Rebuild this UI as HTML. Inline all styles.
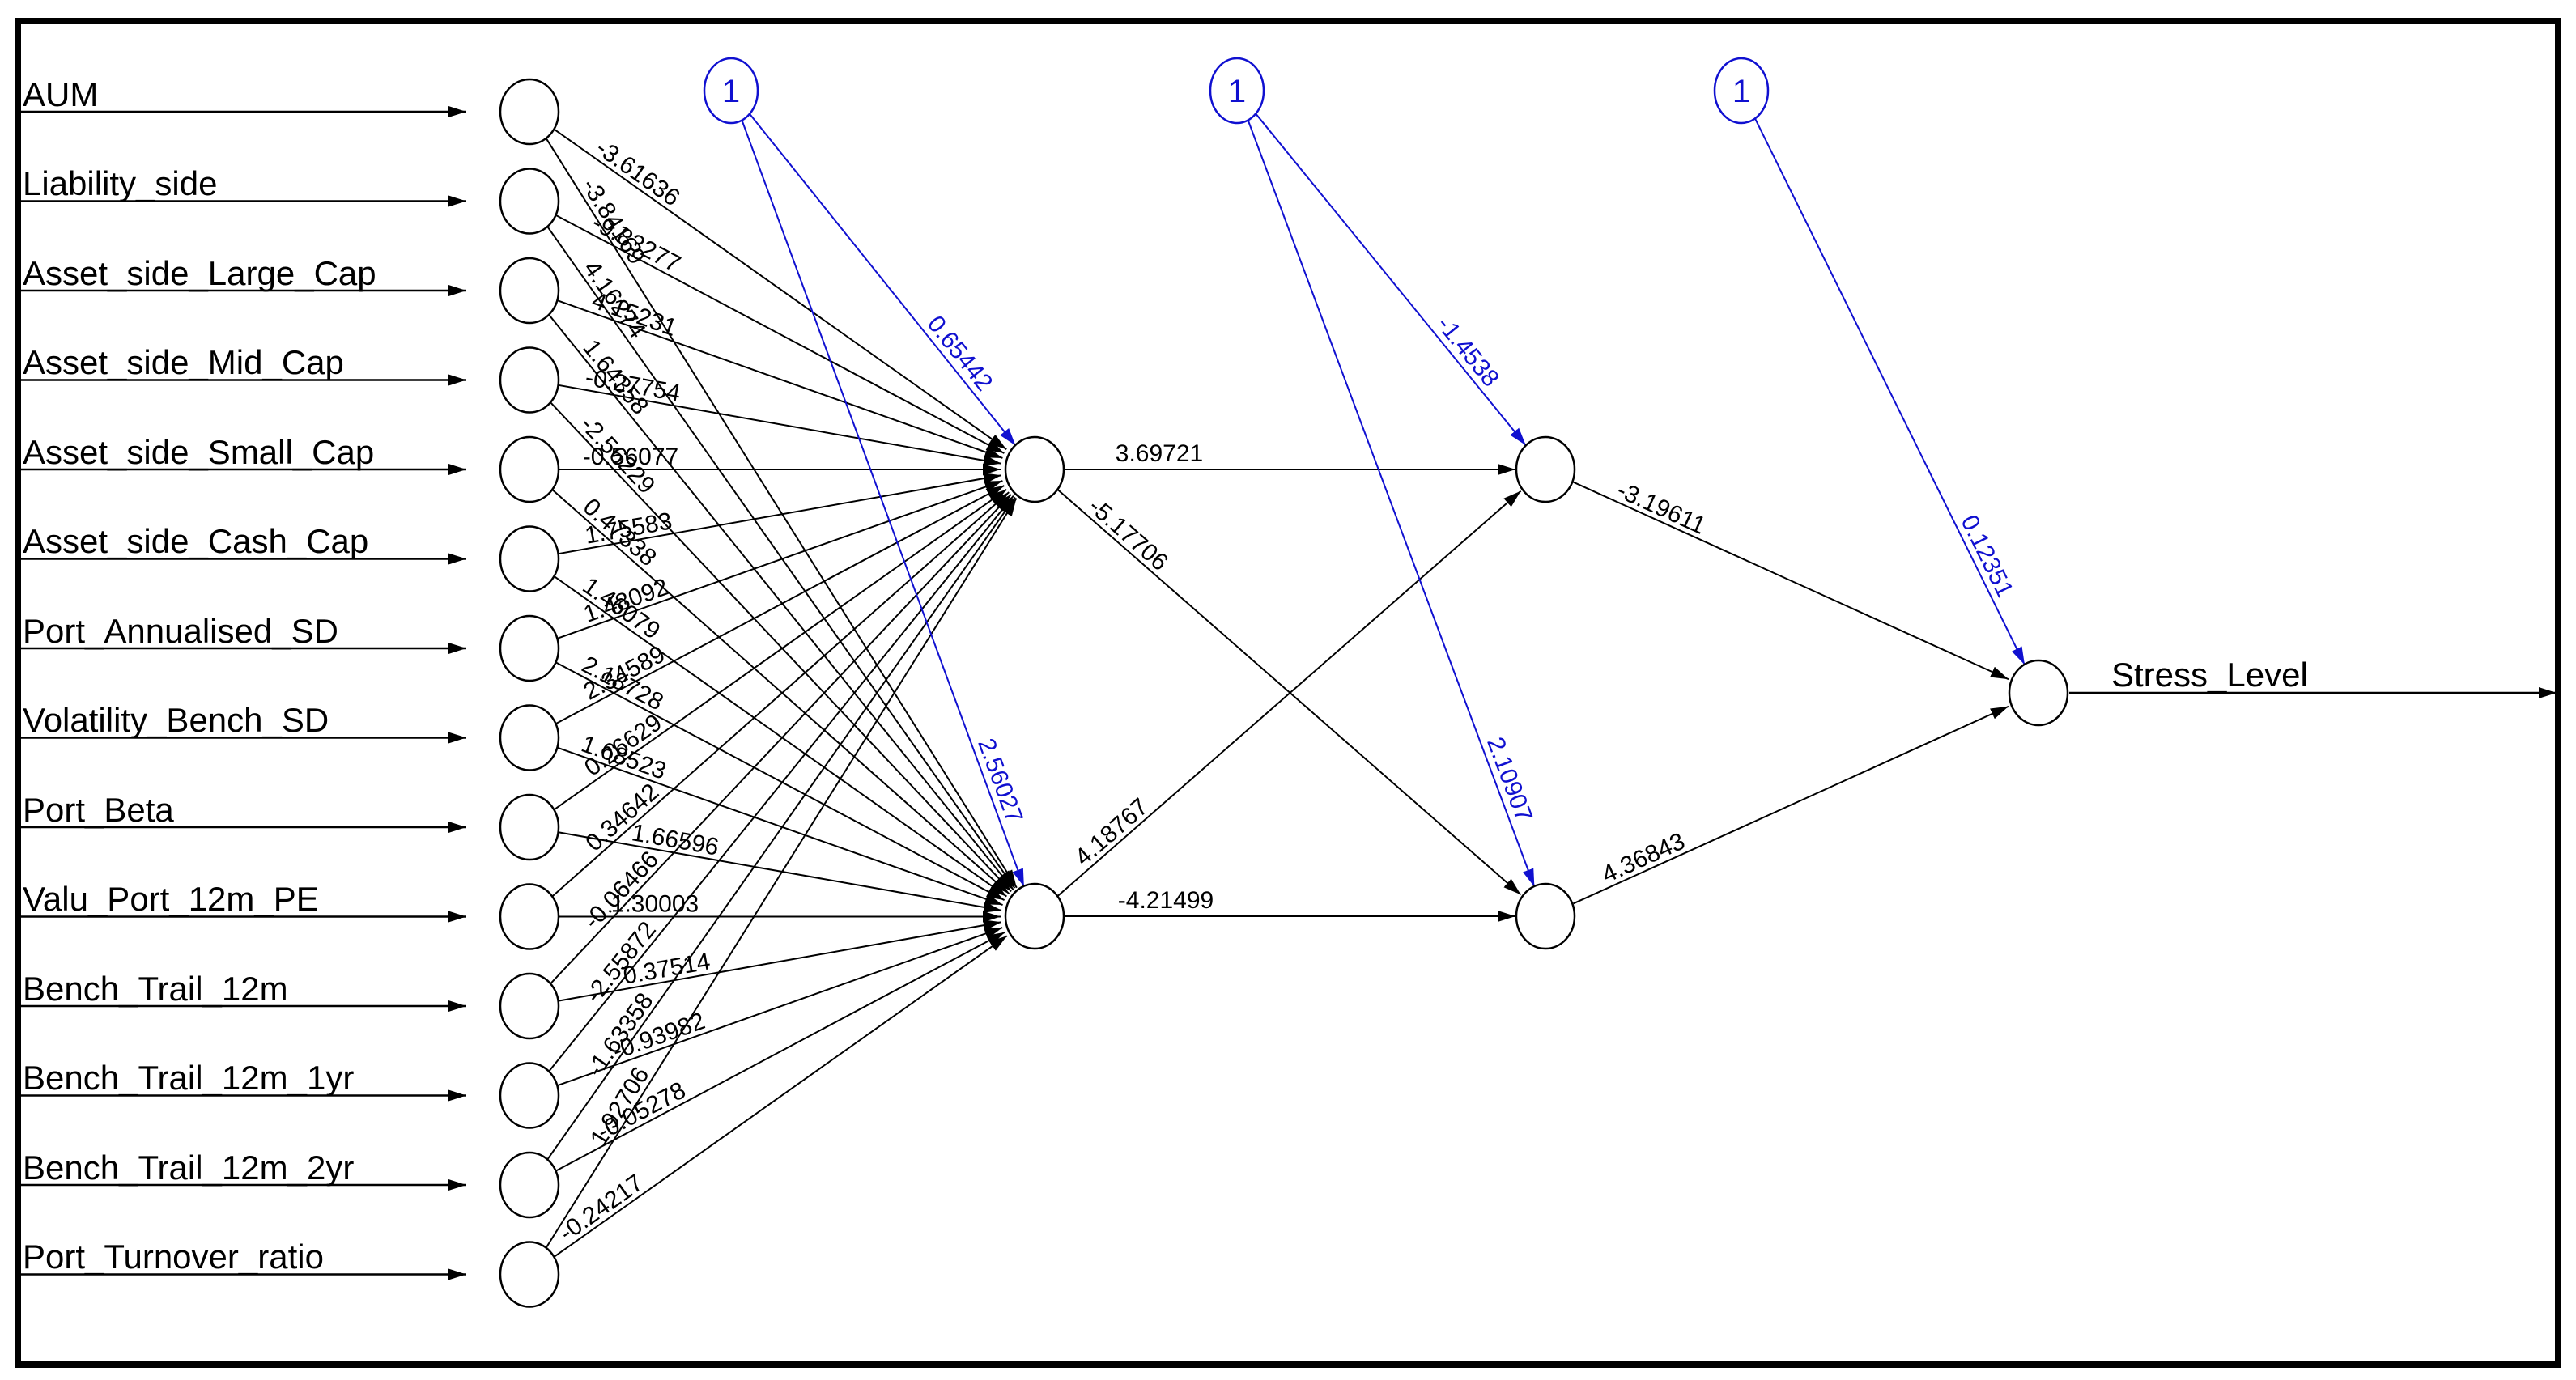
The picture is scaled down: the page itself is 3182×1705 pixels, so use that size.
<!DOCTYPE html>
<html><head><meta charset="utf-8"><style>
html,body{margin:0;padding:0;background:#fff;}
svg{display:block;}
text{font-family:"Liberation Sans",Arial,sans-serif;}
.n{font-size:42px;fill:#000;}
.w{font-size:30px;fill:#000;}
.b{font-size:30px;fill:#1010d0;}
</style></head><body>
<svg width="3182" height="1705" viewBox="0 0 3182 1705" xmlns="http://www.w3.org/2000/svg">
<defs>
<marker id="a" markerWidth="24" markerHeight="14" refX="22" refY="7" orient="auto" markerUnits="userSpaceOnUse"><path d="M0,0 L22,7 L0,14z" fill="#000"/></marker>
<marker id="bl" markerWidth="24" markerHeight="14" refX="22" refY="7" orient="auto" markerUnits="userSpaceOnUse"><path d="M0,0 L22,7 L0,14z" fill="#1010d0"/></marker>
</defs>
<rect x="0" y="0" width="3182" height="1705" fill="#fff"/>
<rect x="22" y="26" width="3138" height="1660" fill="none" stroke="#000" stroke-width="8"/>

<g stroke="#000" stroke-width="2.5" marker-end="url(#a)">
<line x1="24" y1="138" x2="576" y2="138"/>
<line x1="24" y1="248.5" x2="576" y2="248.5"/>
<line x1="24" y1="359" x2="576" y2="359"/>
<line x1="24" y1="469.5" x2="576" y2="469.5"/>
<line x1="24" y1="580" x2="576" y2="580"/>
<line x1="24" y1="690.5" x2="576" y2="690.5"/>
<line x1="24" y1="801" x2="576" y2="801"/>
<line x1="24" y1="911.5" x2="576" y2="911.5"/>
<line x1="24" y1="1022" x2="576" y2="1022"/>
<line x1="24" y1="1132.5" x2="576" y2="1132.5"/>
<line x1="24" y1="1243" x2="576" y2="1243"/>
<line x1="24" y1="1353.5" x2="576" y2="1353.5"/>
<line x1="24" y1="1464" x2="576" y2="1464"/>
<line x1="24" y1="1574.5" x2="576" y2="1574.5"/>
<line x1="2556" y1="856" x2="3158" y2="856"/>
</g>
<g class="n">
<text x="28" y="131">AUM</text>
<text x="28" y="241">Liability_side</text>
<text x="28" y="352">Asset_side_Large_Cap</text>
<text x="28" y="462">Asset_side_Mid_Cap</text>
<text x="28" y="573">Asset_side_Small_Cap</text>
<text x="28" y="683">Asset_side_Cash_Cap</text>
<text x="28" y="794">Port_Annualised_SD</text>
<text x="28" y="904">Volatility_Bench_SD</text>
<text x="28" y="1015">Port_Beta</text>
<text x="28" y="1125">Valu_Port_12m_PE</text>
<text x="28" y="1236">Bench_Trail_12m</text>
<text x="28" y="1346">Bench_Trail_12m_1yr</text>
<text x="28" y="1457">Bench_Trail_12m_2yr</text>
<text x="28" y="1567">Port_Turnover_ratio</text>
<text x="2608" y="848">Stress_Level</text>
</g>

<!-- input -> hidden1 -->
<g stroke="#000" stroke-width="2" marker-end="url(#a)">
<g transform="translate(654,138) rotate(35.3)"><line x1="37" y1="0" x2="722" y2="0"/></g>
<g transform="translate(654,248.5) rotate(27.98)"><line x1="37" y1="0" x2="664" y2="0"/></g>
<g transform="translate(654,359) rotate(19.5)"><line x1="37" y1="0" x2="620" y2="0"/></g>
<g transform="translate(654,469.5) rotate(10.04)"><line x1="37" y1="0" x2="592" y2="0"/></g>
<g transform="translate(654,580) rotate(0)"><line x1="37" y1="0" x2="582" y2="0"/></g>
<g transform="translate(654,690.5) rotate(-10.04)"><line x1="37" y1="0" x2="592" y2="0"/></g>
<g transform="translate(654,801) rotate(-19.5)"><line x1="37" y1="0" x2="620" y2="0"/></g>
<g transform="translate(654,911.5) rotate(-27.98)"><line x1="37" y1="0" x2="664" y2="0"/></g>
<g transform="translate(654,1022) rotate(-35.3)"><line x1="37" y1="0" x2="722" y2="0"/></g>
<g transform="translate(654,1132.5) rotate(-41.52)"><line x1="37" y1="0" x2="791" y2="0"/></g>
<g transform="translate(654,1243) rotate(-46.74)"><line x1="37" y1="0" x2="868" y2="0"/></g>
<g transform="translate(654,1353.5) rotate(-51.1)"><line x1="37" y1="0" x2="952" y2="0"/></g>
<g transform="translate(654,1464) rotate(-54.78)"><line x1="37" y1="0" x2="1040" y2="0"/></g>
<g transform="translate(654,1574.5) rotate(-57.9)"><line x1="37" y1="0" x2="1132" y2="0"/></g>
<!-- input -> hidden2 -->
<g transform="translate(654,138) rotate(57.88)"><line x1="37" y1="0" x2="1132" y2="0"/></g>
<g transform="translate(654,248.5) rotate(54.77)"><line x1="37" y1="0" x2="1039" y2="0"/></g>
<g transform="translate(654,359) rotate(51.08)"><line x1="37" y1="0" x2="952" y2="0"/></g>
<g transform="translate(654,469.5) rotate(46.72)"><line x1="37" y1="0" x2="868" y2="0"/></g>
<g transform="translate(654,580) rotate(41.5)"><line x1="37" y1="0" x2="791" y2="0"/></g>
<g transform="translate(654,690.5) rotate(35.28)"><line x1="37" y1="0" x2="722" y2="0"/></g>
<g transform="translate(654,801) rotate(27.94)"><line x1="37" y1="0" x2="664" y2="0"/></g>
<g transform="translate(654,911.5) rotate(19.46)"><line x1="37" y1="0" x2="620" y2="0"/></g>
<g transform="translate(654,1022) rotate(9.99)"><line x1="37" y1="0" x2="592" y2="0"/></g>
<g transform="translate(654,1132.5) rotate(0)"><line x1="37" y1="0" x2="582" y2="0"/></g>
<g transform="translate(654,1243) rotate(-10.09)"><line x1="37" y1="0" x2="592" y2="0"/></g>
<g transform="translate(654,1353.5) rotate(-19.55)"><line x1="37" y1="0" x2="620" y2="0"/></g>
<g transform="translate(654,1464) rotate(-28.01)"><line x1="37" y1="0" x2="665" y2="0"/></g>
<g transform="translate(654,1574.5) rotate(-35.34)"><line x1="37" y1="0" x2="723" y2="0"/></g>
<!-- hidden1 -> hidden2 -->
<line x1="1314" y1="580" x2="1872" y2="580"/>
<line x1="1314" y1="1132" x2="1872" y2="1132"/>
<g transform="translate(1278,580) rotate(41.18)"><line x1="38" y1="0" x2="798" y2="0"/></g>
<g transform="translate(1278,1132) rotate(-41.18)"><line x1="38" y1="0" x2="798" y2="0"/></g>
<!-- hidden2 -> output -->
<g transform="translate(1909,580) rotate(24.38)"><line x1="38" y1="0" x2="628" y2="0"/></g>
<g transform="translate(1909,1132) rotate(-24.38)"><line x1="38" y1="0" x2="628" y2="0"/></g>
</g>

<!-- weight labels -->
<g class="w" text-anchor="middle">
<text transform="translate(654,138) rotate(35.3)" x="153" y="-6">-3.61636</text>
<text transform="translate(654,248.5) rotate(27.98)" x="141" y="-6">-9.83277</text>
<text transform="translate(654,359) rotate(19.5)" x="132" y="-6">4.15231</text>
<text transform="translate(654,469.5) rotate(10.04)" x="127" y="-6">-0.27754</text>
<text transform="translate(654,580)" x="125" y="-6">-0.56077</text>
<text transform="translate(654,690.5) rotate(-10.04)" x="127" y="-6">1.75583</text>
<text transform="translate(654,801) rotate(-19.5)" x="132" y="-6">1.48092</text>
<text transform="translate(654,911.5) rotate(-27.98)" x="141" y="-6">2.34589</text>
<text transform="translate(654,1022) rotate(-35.3)" x="153" y="-6">0.26629</text>
<text transform="translate(654,1132.5) rotate(-41.52)" x="167" y="-6">0.34642</text>
<text transform="translate(654,1243) rotate(-46.74)" x="182" y="-6">-0.06466</text>
<text transform="translate(654,1353.5) rotate(-51.1)" x="199" y="-6">-2.55872</text>
<text transform="translate(654,1464) rotate(-54.78)" x="216" y="-6">-1.63358</text>
<text transform="translate(654,1574.5) rotate(-57.9)" x="235" y="-6">1.92706</text>
<text transform="translate(654,138) rotate(57.88)" x="170" y="-6">-3.84169</text>
<text transform="translate(654,248.5) rotate(54.77)" x="160" y="-6">4.16274</text>
<text transform="translate(654,359) rotate(51.08)" x="150" y="-6">1.64358</text>
<text transform="translate(654,469.5) rotate(46.72)" x="142" y="-6">-2.56229</text>
<text transform="translate(654,580) rotate(41.5)" x="135" y="-6">0.47338</text>
<text transform="translate(654,690.5) rotate(35.28)" x="128" y="-6">1.46079</text>
<text transform="translate(654,801) rotate(27.94)" x="122" y="-6">2.18728</text>
<text transform="translate(654,911.5) rotate(19.46)" x="118" y="-6">1.68523</text>
<text transform="translate(654,1022) rotate(9.99)" x="180" y="-6">1.66596</text>
<text transform="translate(654,1132.5)" x="155" y="-6">1.30003</text>
<text transform="translate(654,1243) rotate(-10.09)" x="175" y="-6">0.37514</text>
<text transform="translate(654,1353.5) rotate(-19.55)" x="175" y="-6">-0.93982</text>
<text transform="translate(654,1464) rotate(-28.01)" x="165" y="-6">-0.05278</text>
<text transform="translate(654,1574.5) rotate(-35.34)" x="120" y="-6">-0.24217</text>
<text x="1432" y="570">3.69721</text>
<text x="1440" y="1122">-4.21499</text>
<text transform="translate(1278,580) rotate(41.18)" x="140" y="-6">-5.17706</text>
<text transform="translate(1278,1132) rotate(-41.18)" x="140" y="-6">4.18767</text>
<text transform="translate(1909,580) rotate(24.38)" x="150" y="-6">-3.19611</text>
<text transform="translate(1909,1132) rotate(-24.38)" x="140" y="-6">4.36843</text>
</g>

<!-- bias edges -->
<g stroke="#1010d0" stroke-width="2" marker-end="url(#bl)">
<g transform="translate(903,112) rotate(51.29)"><line x1="37" y1="0" x2="562" y2="0"/></g>
<g transform="translate(903,112) rotate(69.8)"><line x1="37" y1="0" x2="1048" y2="0"/></g>
<g transform="translate(1528,112) rotate(50.85)"><line x1="37" y1="0" x2="565" y2="0"/></g>
<g transform="translate(1528,112) rotate(69.52)"><line x1="37" y1="0" x2="1050" y2="0"/></g>
<g transform="translate(2151,112) rotate(63.74)"><line x1="37" y1="0" x2="791" y2="0"/></g>
</g>
<g class="b" text-anchor="middle">
<text transform="translate(903,112) rotate(51.29)" x="430" y="-8">0.65442</text>
<text transform="translate(903,112) rotate(69.8)" x="915" y="-8">2.56027</text>
<text transform="translate(1528,112) rotate(50.85)" x="430" y="-8">-1.4538</text>
<text transform="translate(1528,112) rotate(69.52)" x="915" y="-8">2.10907</text>
<text transform="translate(2151,112) rotate(63.74)" x="650" y="-8">0.12351</text>
</g>

<!-- nodes -->
<g fill="#fff" stroke="#000" stroke-width="2.5">
<ellipse cx="654" cy="138" rx="36" ry="40"/>
<ellipse cx="654" cy="248.5" rx="36" ry="40"/>
<ellipse cx="654" cy="359" rx="36" ry="40"/>
<ellipse cx="654" cy="469.5" rx="36" ry="40"/>
<ellipse cx="654" cy="580" rx="36" ry="40"/>
<ellipse cx="654" cy="690.5" rx="36" ry="40"/>
<ellipse cx="654" cy="801" rx="36" ry="40"/>
<ellipse cx="654" cy="911.5" rx="36" ry="40"/>
<ellipse cx="654" cy="1022" rx="36" ry="40"/>
<ellipse cx="654" cy="1132.5" rx="36" ry="40"/>
<ellipse cx="654" cy="1243" rx="36" ry="40"/>
<ellipse cx="654" cy="1353.5" rx="36" ry="40"/>
<ellipse cx="654" cy="1464" rx="36" ry="40"/>
<ellipse cx="654" cy="1574.5" rx="36" ry="40"/>
<ellipse cx="1278" cy="580" rx="36" ry="40"/>
<ellipse cx="1278" cy="1132" rx="36" ry="40"/>
<ellipse cx="1909" cy="580" rx="36" ry="40"/>
<ellipse cx="1909" cy="1132" rx="36" ry="40"/>
<ellipse cx="2518" cy="856" rx="36" ry="40"/>
</g>
<g fill="#fff" stroke="#1010d0" stroke-width="2.5">
<ellipse cx="903" cy="112" rx="33" ry="40"/>
<ellipse cx="1528" cy="112" rx="33" ry="40"/>
<ellipse cx="2151" cy="112" rx="33" ry="40"/>
</g>
<g class="b" style="font-size:40px" text-anchor="middle">
<text x="903" y="126">1</text>
<text x="1528" y="126">1</text>
<text x="2151" y="126">1</text>
</g>
</svg>
</body></html>
